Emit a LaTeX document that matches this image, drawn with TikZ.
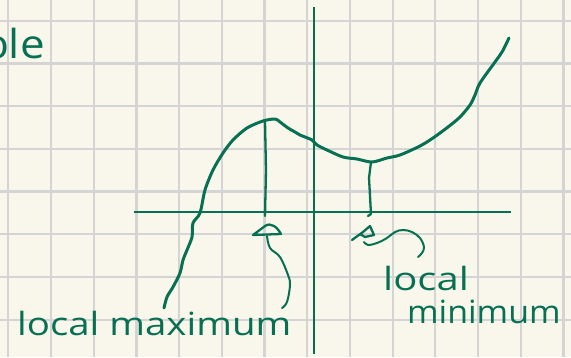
\documentclass[tikz,border=0pt]{standalone}
\usepackage{fontspec}
\setmainfont{Open Sans}
\usepackage{graphicx}
\definecolor{ink}{RGB}{8,112,82}
\definecolor{paper}{RGB}{249,247,236}
\definecolor{gridc}{RGB}{212,212,212}
\begin{document}
\begin{tikzpicture}[x=1pt,y=-1pt,
  gridline/.style={draw=gridc,line width=2.2pt},
  curve/.style={draw=ink,line width=3pt,line cap=round,line join=round},
  axis/.style={draw=ink,line width=2.4pt},
  pen/.style={draw=ink,line width=2.3pt,line cap=round,line join=round},
  hand/.style={text=ink,inner sep=0pt,font=\fontsize{32}{32}\selectfont}]
\useasboundingbox (0,0) rectangle (571,357);
\fill[paper] (0,0) rectangle (571,357);
\foreach \k in {0,...,13} \draw[gridline] ({8.3+42.7*\k},0) -- ({8.3+42.7*\k},357);
\foreach \k in {0,...,7} \draw[gridline] (0,{20.7+42.7*\k}) -- (571,{20.7+42.7*\k});
% axes
\coordinate (xl) at (134,212);
\coordinate (xr) at (511,212);
\coordinate (yt) at (314,7);
\coordinate (yb) at (314,354);
\draw[axis] (xl) -- (xr);
\draw[axis] (yt) -- (yb);
% curve
\draw[curve] plot[smooth,tension=0.5] coordinates {
 (164,308) (167,297) (173,287) (180,273) (183,260) (187,250) (192,237)
 (193,223) (200,213) (205,190) (213,170) (223,153) (233,140) (247,128)
 (263,121) (275,119) (280,122) (288,128) (295,132) (300,135) (312,140)
 (317,145) (327,150) (343,157) (357,159) (372,162) (387,158) (400,155)
 (420,146) (433,138) (448,127) (460,117) (470,105) (475,95) (480,83)
 (495,62) (502,52) (509,38)};
% drop lines
\coordinate (maxtop) at (265,121);
\coordinate (maxbot) at (265,216);
\coordinate (mintop) at (371,162);
\coordinate (minbot) at (371,214);
\draw[pen] (maxtop) -- (266,170) -- (maxbot);
\draw[pen] (mintop) -- (369,178) -- (minbot) -- (368,216);
% left arrow
\draw[pen] (253,235) -- (265,226) .. controls (271,222) and (277,227) .. (281,234) -- cycle;
\draw[pen,line width=2pt] plot[smooth,tension=0.6] coordinates {
 (267,236) (270,248) (280,257) (288,275) (290,285) (287,302) (282,308)};
% right arrow
\draw[pen] (352,240) -- (363,232) -- (370,226) -- (374,235) -- (365,237) -- (360,234);
\draw[pen,line width=2pt] plot[smooth,tension=0.6] coordinates {
 (364,242) (368,245) (377,243) (387,238) (395,232) (403,230) (412,232)
 (420,238) (424,247) (422,253) (418,257)};
% texts
\node[hand,anchor=base east,font=\fontsize{40}{40}\selectfont] (ble) at (45,58) {\scalebox{1.1}[1]{ble}};
\node[hand,anchor=base west] (lmax) at (17,335) {\scalebox{1.2}[1]{local maximum}};
\node[hand,anchor=base west] (lmin1) at (383,290) {\scalebox{1.25}[1]{local}};
\node[hand,anchor=base west] (lmin2) at (407,323) {\scalebox{1.06}[1]{minimum}};
\end{tikzpicture}
\end{document}
